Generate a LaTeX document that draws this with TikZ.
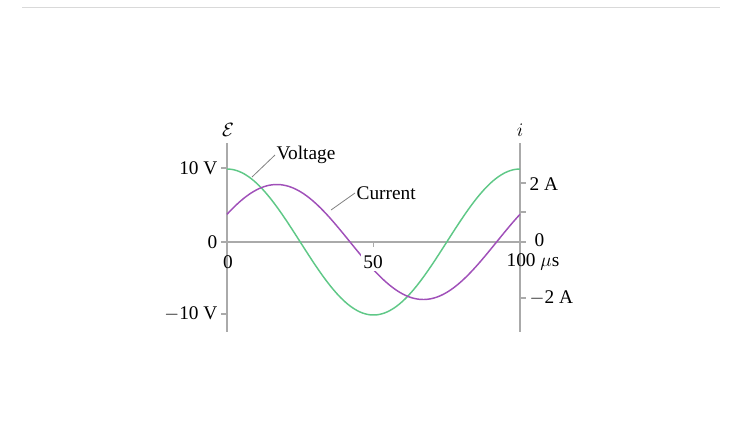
\documentclass[tikz,border=0pt]{standalone}
\usepackage{fontspec}
\setmainfont{Liberation Serif}
\definecolor{vgreen}{RGB}{95,200,135}
\definecolor{ipurple}{RGB}{160,80,185}
\definecolor{axgray}{RGB}{170,170,170}
\begin{document}
\begin{tikzpicture}[x=0.75pt,y=-0.75pt,
  lbl/.style={font=\fontsize{14.5}{16}\selectfont,inner sep=1pt},
  ax/.style={axgray,line width=0.8pt},
  lead/.style={gray,line width=0.6pt}]
\useasboundingbox (0,0) rectangle (742,444);
\draw[line width=0.5pt,black!15] (22,7) -- (720,7);
% axes
\draw[ax] (227,143) -- (227,332);
\draw[ax] (520,143) -- (520,332);
\draw[ax] (227,242) -- (520,242);
\foreach \yy in {168,242,314} \draw[ax] (227,\yy) -- (221,\yy);
\foreach \yy in {183,212,242,298} \draw[ax] (520,\yy) -- (526,\yy);
\foreach \xx in {227,373.5,520} \draw[ax] (\xx,242) -- (\xx,247);
% curves
\draw[vgreen,line width=1.1pt] plot[domain=0:100,samples=120,smooth] ({227+2.93*\x},{242-73*cos(3.6*\x)});
\draw[ipurple,line width=1.1pt] plot[domain=0:100,samples=120,smooth] ({227+2.93*\x},{242-57.5*cos(3.6*(\x-17))});
% labels
\node[lbl] (e) at (228,130) {$\mathcal{E}$};
\node[lbl] (i) at (520,130) {$i$};
\node[lbl,anchor=east] (v10) at (219,168) {10 V};
\node[lbl,anchor=east] (v0) at (219,242) {0};
\node[lbl,anchor=east] (vm10) at (219,314) {$-$10 V};
\node[lbl,anchor=west] (a2) at (528,184) {2 A};
\node[lbl,anchor=west] (a0) at (533,240) {0};
\node[lbl,anchor=west] (am2) at (528,298) {$-$2 A};
\node[lbl] (t0) at (228,262) {0};
\node[lbl,fill=white,inner sep=1.5pt] (t50) at (373,262) {50};
\node[lbl,anchor=west] (t100) at (505,262) {100 $\mu$s};
\node[lbl,anchor=west] (vl) at (275,155) {Voltage};
\node[lbl,anchor=west] (cl) at (355,193) {Current};
\coordinate (vp) at (252,177);
\coordinate (cp) at (331,210);
\draw[lead] (vp) -- (vl.west);
\draw[lead] (cp) -- (cl.west);
\end{tikzpicture}
\end{document}
